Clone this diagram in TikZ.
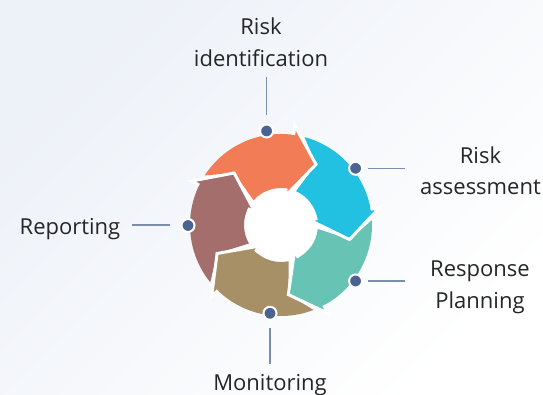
\documentclass[tikz,border=0pt]{standalone}
\usepackage{fontspec}
\setmainfont{Open Sans}
\usepackage{tikz}

\definecolor{bgtint}{HTML}{EDF1F8}
\definecolor{txtcol}{HTML}{262626}
\definecolor{dotblue}{HTML}{4A6391}
\definecolor{leadcol}{HTML}{7D8DAE}
\definecolor{arrOrange}{HTML}{F27C55}
\definecolor{arrCyan}{HTML}{22C0E1}
\definecolor{arrTeal}{HTML}{67C3B3}
\definecolor{arrBrown}{HTML}{A89066}
\definecolor{arrMauve}{HTML}{A46E6D}

\tikzset{
  lbl/.style={font=\fontsize{22}{30}\selectfont, text=txtcol, anchor=base, inner sep=0pt},
  hubdot/.style={circle, fill=dotblue, draw=white, line width=2pt, minimum size=13pt, inner sep=0pt},
  leadline/.style={draw=leadcol, line width=1.2pt},
  headtip/.style={draw=white, line width=3pt}
}

\begin{document}
\begin{tikzpicture}[x=1pt,y=1pt]
    \useasboundingbox (0,0) rectangle (543,395);
    \clip (0,0) rectangle (543,395);
    \shade[top color=bgtint, bottom color=white, shading angle=45] (0,0) rectangle (543,395);

    \begin{scope}[shift={(281,170)}]
        \fill[white] (0,0) circle (70pt);
        \foreach \b/\c in {82/arrOrange, 10/arrCyan, -62/arrTeal, -134/arrBrown, -206/arrMauve}
            \fill[\c] (\b+65:91pt) arc[start angle=\b+65, end angle=\b-2, radius=91pt]
                -- (\b-2:37pt) arc[start angle=\b-2, end angle=\b+56, radius=37pt]
                -- (\b+50:70pt) -- cycle;
        \foreach \b/\c in {82/arrOrange, 10/arrCyan, -62/arrTeal, -134/arrBrown, -206/arrMauve}
            \filldraw[fill=\c, headtip] (\b:37pt) -- (\b:29pt) -- (\b-22:70pt) -- (\b:100pt) -- (\b:91pt);
    \end{scope}

    \node[hubdot] (d1) at (266.6,264) {};
    \node[hubdot] (d2) at (355.6,226.7) {};
    \node[hubdot] (d3) at (188,169.5) {};
    \node[hubdot] (d4) at (355.6,114) {};
    \node[hubdot] (d5) at (270,81.7) {};

    \node[lbl] (idA) at (261,360) {Risk};
    \node[lbl] (idB) at (261,328.3) {identification};
    \node[lbl] (asA) at (480.5,231.7) {Risk};
    \node[lbl] (asB) at (480.5,200) {assessment};
    \node[lbl] (rpA) at (480,118.4) {Response};
    \node[lbl] (rpB) at (480,86.7) {Planning};
    \node[lbl] (rep) at (70,160.7) {Reporting};
    \node[lbl] (mon) at (270,4) {Monitoring};

    \coordinate (l1s) at (266.6,280);   \coordinate (l1e) at (266.6,317.7);
    \coordinate (l2s) at (368,226.7);   \coordinate (l2e) at (405,226.7);
    \coordinate (l3s) at (170,170);     \coordinate (l3e) at (131.7,170);
    \coordinate (l4s) at (368,114);     \coordinate (l4e) at (405,114);
    \coordinate (l5s) at (270,67);      \coordinate (l5e) at (270,31);
    \draw[leadline] (l1s) -- (l1e);
    \draw[leadline] (l2s) -- (l2e);
    \draw[leadline] (l3s) -- (l3e);
    \draw[leadline] (l4s) -- (l4e);
    \draw[leadline] (l5s) -- (l5e);
\end{tikzpicture}
\end{document}
